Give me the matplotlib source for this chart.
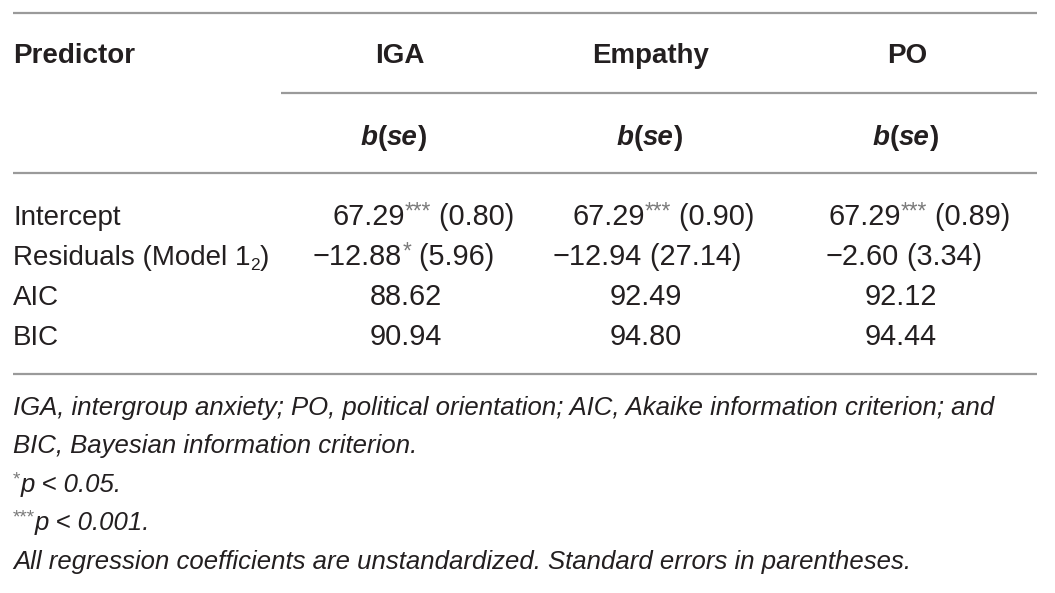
import matplotlib
matplotlib.use("Agg")
import matplotlib.pyplot as plt

plt.rcParams['font.family'] = ['Liberation Sans', 'DejaVu Sans']

# ---- data ----
columns = ["IGA", "Empathy", "PO"]
row_labels = ["Intercept", "Residuals (Model 1", "AIC", "BIC"]
row_label_sub = ["", "2", "", ""]
intercept_b = ["67.29", "67.29", "67.29"]
intercept_sig = ["***", "***", "***"]
intercept_se = ["0.80", "0.90", "0.89"]
resid_b = ["\u221212.88", "\u221212.94", "\u22122.60"]
resid_sig = ["*", "", ""]
resid_se = ["5.96", "27.14", "3.34"]
aic = ["88.62", "92.49", "92.12"]
bic = ["90.94", "94.80", "94.44"]
note_sig = ["", "", "*", "***", ""]
footnotes = [
    "IGA, intergroup anxiety; PO, political orientation; AIC, Akaike information criterion; and",
    "BIC, Bayesian information criterion.",
    "p < 0.05.",
    "p < 0.001.",
    "All regression coefficients are unstandardized. Standard errors in parentheses.",
]

# ---- layout ----
W, H = 1055, 593
fig = plt.figure(figsize=(W / 100, H / 100), dpi=100)
ax = fig.add_axes([0, 0, 1, 1])
ax.set_xlim(0, W)
ax.set_ylim(H, 0)
ax.axis('off')
renderer = fig.canvas.get_renderer()

txt = '#231f20'
sig_c = '#7a7a7a'
line_c = '#9a9a9a'
fs = 20
fs_num = 20.8
fs_note = 18.5


def runs(x, y, parts, ha='left'):
    """parts: list of (string, dict(props), dy). Draws consecutive text runs."""
    widths = []
    objs = []
    for s, props, dy in parts:
        t = ax.text(0, y + dy, s, va='baseline', ha='left', **props)
        bb = t.get_window_extent(renderer)
        widths.append(bb.width)
        objs.append(t)
    total = sum(widths)
    if ha == 'center':
        x0 = x - total / 2
    elif ha == 'right':
        x0 = x - total
    else:
        x0 = x
    cur = x0
    for t, w in zip(objs, widths):
        t.set_x(cur)
        cur += w


def hline(x0, x1, y):
    ax.plot([x0, x1], [y, y], color=line_c, lw=1.6, solid_capstyle='butt')


left, right = 13, 1037
hline(left, right, 13)
hline(281, right, 93)
hline(left, right, 173)
hline(left, right, 374)

base = dict(fontsize=fs, color=txt)
num = dict(fontsize=fs_num, color=txt)
bold = dict(fontsize=fs, color=txt, fontweight='bold')
boldit = dict(fontsize=fs, color=txt, fontweight='bold', style='italic')
sup = dict(fontsize=fs_num * 0.78, color=sig_c)

head_x = [400, 651, 907]
sub_x = [394, 650, 906]
ax.text(left, 63, "Predictor", va='baseline', ha='left', **bold)
for x, c in zip(head_x, columns):
    ax.text(x, 63, c, va='baseline', ha='center', **bold)
for x in sub_x:
    runs(x, 145, [("b", boldit, 0), ("(", bold, 0), ("se", boldit, 0), (")", bold, 0)], ha='center')

row_base = [225, 265, 305, 345]
for y, lab, sb in zip(row_base, row_labels, row_label_sub):
    parts = [(lab, base, 0)]
    if sb:
        parts += [(sb, dict(fontsize=fs * 0.62, color=txt), 5), (")", base, 0)]
    runs(left, y, parts)

int_x = [332, 572, 828]
res_x = [313, 553, 826]
num_c = [406, 646, 901]
for i in range(3):
    runs(int_x[i], row_base[0], [(intercept_b[i], num, 0), (intercept_sig[i], sup, -6),
                                 (" (" + intercept_se[i] + ")", num, 0)])
    p2 = [(resid_b[i], num, 0)]
    if resid_sig[i]:
        p2.append((resid_sig[i], sup, -6))
    p2.append((" (" + resid_se[i] + ")", num, 0))
    runs(res_x[i], row_base[1], p2)
    ax.text(num_c[i], row_base[2], aic[i], va='baseline', ha='center', **num)
    ax.text(num_c[i], row_base[3], bic[i], va='baseline', ha='center', **num)

note_base = [415, 453, 492, 530, 569]
nprops = dict(fontsize=fs_note, color=txt, style='italic')
nsup = dict(fontsize=fs_note * 0.75, color=sig_c)
for y, n, sg in zip(note_base, footnotes, note_sig):
    parts = []
    if sg:
        parts.append((sg, nsup, -8))
    parts.append((n, nprops, 0))
    runs(left, y, parts)

fig.savefig("out.png", dpi=100, facecolor='white')
